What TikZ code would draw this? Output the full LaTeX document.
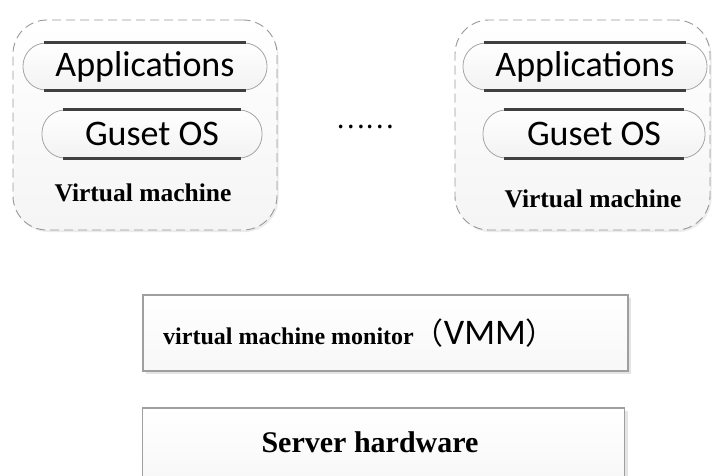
\documentclass[tikz,border=0pt]{standalone}
\usepackage{fontspec}
\setmainfont{Liberation Serif}
\newfontfamily\calfont{Carlito}
\newfontfamily\cjkfont{Noto Sans CJK SC}
\usepackage{xcolor}
\usetikzlibrary{positioning}
\usetikzlibrary{shadows}

\tikzset{
  vmbox/.style={draw=gray!80, dashed, line width=0.9pt, dash pattern=on 9pt off 5pt,
    rounded corners=34pt, top color=white, bottom color=gray!8,
    drop shadow={shadow xshift=1.5pt, shadow yshift=-2pt, fill=gray!25, opacity=0.6}},
  pill/.style={draw=gray!70, line width=0.8pt, rounded corners=23pt,
    top color=white, bottom color=gray!10, font=\calfont\fontsize{36}{40}\selectfont},
  pillbar/.style={line width=2.6pt, draw=black!75},
  layerbox/.style={draw=gray!75, line width=1.2pt, top color=white, bottom color=gray!6,
    drop shadow={shadow xshift=3pt, shadow yshift=-3pt, fill=gray!30, opacity=0.7}},
  vmlabel/.style={font=\bfseries\fontsize{25.5}{28}\selectfont}
}

\begin{document}
\begin{tikzpicture}[x=1pt,y=-1pt]
  \useasboundingbox (0,0) rectangle (712,476);
  \clip (0,0) rectangle (712,476);
  \fill[white] (0,0) rectangle (712,476);

  % left virtual machine
  \node[vmbox, minimum width=264, minimum height=210] (vm1) at (145,125) {};
  \node[pill, minimum width=244, minimum height=47] (app1) at (145,66.5) {Applications};
  \node[pill, minimum width=220, minimum height=48] (os1) at (152,134) {Guset OS};
  \node[vmlabel] (vmtext1) at (143,193) {Virtual machine};

  % right virtual machine
  \node[vmbox, minimum width=255, minimum height=210] (vm2) at (582.5,125) {};
  \node[pill, minimum width=244, minimum height=47] (app2) at (585,66.5) {Applications};
  \node[pill, minimum width=222, minimum height=48] (os2) at (594,134) {Guset OS};
  \node[vmlabel] (vmtext2) at (593,199) {Virtual machine};

  \foreach \p in {app1,os1,app2,os2} {
    \draw[pillbar] ([xshift=21]\p.north west) -- ([xshift=-21]\p.north east);
    \draw[pillbar] ([xshift=21]\p.south west) -- ([xshift=-21]\p.south east);
  }

  \node[font=\cjkfont\fontsize{27}{30}\selectfont, inner sep=0pt] (dots) at (365,127) {……};

  % monitor and hardware
  \node[layerbox, minimum width=485, minimum height=76] (vmm) at (385.5,333) {};
  \node[anchor=west, inner sep=0pt] (vmmtext) at (163,333)
    {\bfseries\fontsize{24}{26}\selectfont virtual machine monitor%
     {\mdseries\cjkfont\fontsize{30}{32}\selectfont （}{\mdseries\calfont\fontsize{36}{38}\selectfont VMM}{\mdseries\cjkfont\fontsize{30}{32}\selectfont ）}};
  \node[layerbox, minimum width=482, minimum height=76] (hw) at (383.5,446) {};
  \node[font=\bfseries\fontsize{30}{32}\selectfont] (hwtext) at (370,442) {Server hardware};
\end{tikzpicture}
\end{document}
